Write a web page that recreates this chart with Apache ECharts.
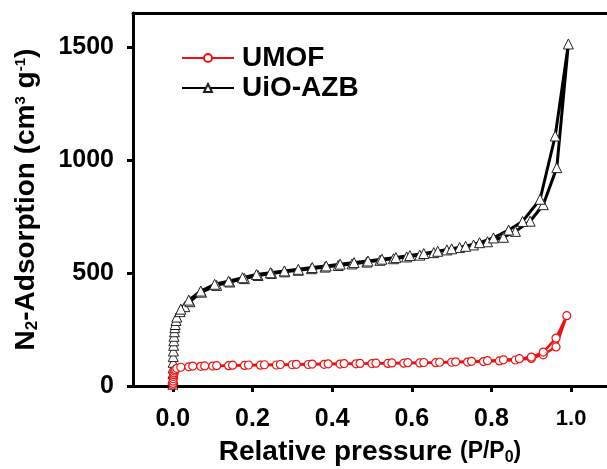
<!DOCTYPE html>
<html>
<head>
<meta charset="utf-8">
<script src="https://cdn.jsdelivr.net/npm/echarts@6/dist/echarts.min.js"></script>
<style>html,body{margin:0;padding:0;background:#fff}#c{width:607px;height:469px}</style>
</head>
<body>
<div id="c"></div>
<script>
// ---- data ----
const seriesNames = ['UMOF', 'UiO-AZB'];
const xTicks = [0, 0.2, 0.4, 0.6, 0.8, 1.0];
const yTicks = [0, 500, 1000, 1500];

const uioAdsP = [0.0001,0.0002,0.0004,0.0006,0.0008,0.001,0.0015,0.002,0.0025,0.003,0.004,0.005,0.006,0.008,0.01,0.018,0.03,0.043,0.072,0.11,0.143,0.18,0.214,0.248,0.281,0.315,0.348,0.382,0.415,0.45,0.487,0.52,0.554,0.587,0.62,0.655,0.688,0.72,0.755,0.79,0.83,0.86,0.897,0.93,0.964,0.993];
const uioAdsV = [8,30,55,80,105,130,155,180,200,220,240,258,272,290,305,329,351,373,415,445,460,475,489,498,505,512,519,526,533,540,548,556,563,571,579,590,602,613,624,638,658,684,729,802,966,1513];
const uioDesP = [0.96,0.922,0.878,0.843,0.805,0.77,0.735,0.7,0.665,0.63,0.595,0.56,0.525,0.49,0.455,0.42,0.385,0.35,0.315,0.28,0.245,0.21,0.175,0.14,0.105,0.07,0.04,0.02];
const uioDesV = [1106,826,728,690,655,634,618,607,596,586,577,568,561,553,546,539,531,524,516,509,501,493,479,464,450,420,380,340];

const umofAdsP = [0.0001,0.0003,0.0006,0.001,0.0015,0.002,0.003,0.005,0.007,0.01,0.02,0.04,0.07,0.1,0.14,0.18,0.22,0.26,0.3,0.34,0.38,0.42,0.46,0.5,0.54,0.58,0.62,0.66,0.7,0.74,0.78,0.82,0.86,0.9,0.93,0.962,0.989];
const umofAdsV = [4,12,22,32,42,50,58,66,72,78,83,85,87,88,90,91,92,93,94,95,96,97,98,99,100,101,102,103,105,106,108,111,115,122,138,173,311];
const umofDesP = [0.962,0.93,0.9,0.87,0.83,0.79,0.75,0.71,0.67,0.63,0.59,0.55,0.51,0.47,0.43,0.39,0.35,0.31,0.27,0.23,0.19,0.15,0.11,0.08,0.05];
const umofDesV = [212,150,128,121,116,112,109,107,105,104,103,102,101,100,99,98,97,96,95,94,93,92,90,89,88];

function pairs(px, vy) { return px.map((p, i) => [p, vy[i]]); }
const uioData = pairs(uioAdsP, uioAdsV).concat(pairs(uioDesP, uioDesV));
const umofData = pairs(umofAdsP, umofAdsV).concat(pairs(umofDesP, umofDesV));

const FONT = '"Liberation Sans", Arial, sans-serif';
const chart = echarts.init(document.getElementById('c'), null, {renderer: 'canvas'});
chart.setOption({
  animation: false,
  backgroundColor: '#fff',
  grid: {left: 133, right: 0, top: 13, bottom: 83, containLabel: false, outerBoundsMode: 'none'},
  legend: {
    data: seriesNames,
    orient: 'vertical',
    left: 181, top: 44, padding: 0,
    itemWidth: 52, itemHeight: 10, itemGap: 2,
    textStyle: {fontFamily: FONT, fontWeight: 'bold', fontSize: 28, color: '#000', padding: [0, 0, 0, 3]}
  },
  xAxis: [{
    type: 'value', min: -0.1, max: 1.09,
    axisLine: {show: true, onZero: false, lineStyle: {color: '#000', width: 3}},
    axisTick: {show: true, customValues: xTicks, inside: false, length: 6, lineStyle: {color: '#000', width: 3}},
    axisLabel: {
      customValues: xTicks, margin: 21, color: '#000', fontFamily: FONT, fontWeight: 'bold', fontSize: 25,
      formatter: v => (Math.abs(v - 1) < 1e-9 ? '{s|1.0}' : v.toFixed(1)),
      rich: {s: {fontFamily: FONT, fontWeight: 'bold', fontSize: 22, color: '#000', padding: [1, 0, 0, 0]}}
    },
    splitLine: {show: false},
    name: 'Relative pressure {s|(P/P}{sub|0}{s|)}',
    nameLocation: 'middle', nameGap: 52,
    nameTextStyle: {
      fontFamily: FONT, fontWeight: 'bold', fontSize: 28, color: '#000',
      rich: {
        s: {fontFamily: FONT, fontWeight: 'bold', fontSize: 23, color: '#000'},
        sub: {fontFamily: FONT, fontWeight: 'bold', fontSize: 16, color: '#000', verticalAlign: 'bottom', padding: [10, 0, 0, 0]}
      }
    }
  }, {
    type: 'value', position: 'top', min: -0.1, max: 1.09,
    axisLine: {show: true, onZero: false, lineStyle: {color: '#000', width: 3}},
    axisTick: {show: false}, axisLabel: {show: false}, splitLine: {show: false}
  }],
  yAxis: {
    type: 'value', min: 0, max: 1650,
    axisLine: {show: true, onZero: false, lineStyle: {color: '#000', width: 3}},
    axisTick: {show: true, customValues: yTicks, length: 6, lineStyle: {color: '#000', width: 3}},
    axisLabel: {customValues: yTicks, margin: 19, color: '#000', fontFamily: FONT, fontWeight: 'bold', fontSize: 25,
      formatter: v => String(v)},
    splitLine: {show: false},
    name: 'N{sub|2}-Adsorption (cm{sup|3} g{sup|-1})',
    nameLocation: 'middle', nameGap: 92,
    nameTextStyle: {
      fontFamily: FONT, fontWeight: 'bold', fontSize: 28, color: '#000',
      rich: {
        sub: {fontFamily: FONT, fontWeight: 'bold', fontSize: 17, color: '#000', padding: [12, 0, 0, 0]},
        sup: {fontFamily: FONT, fontWeight: 'bold', fontSize: 15, color: '#000', padding: [0, 0, 12, 0]}
      }
    }
  },
  series: [{
    name: 'UiO-AZB', type: 'line', data: uioData, z: 2,
    symbol: 'triangle', symbolSize: 10, showAllSymbol: true,
    lineStyle: {color: '#000', width: 3},
    itemStyle: {color: '#fff', borderColor: '#222', borderWidth: 1}
  }, {
    name: 'UMOF', type: 'line', data: umofData, z: 3,
    symbol: 'circle', symbolSize: 8, showAllSymbol: true,
    lineStyle: {color: '#ee1111', width: 2.5},
    itemStyle: {color: '#fff', borderColor: '#ee1111', borderWidth: 1.2}
  }]
});
</script>
</body>
</html>
